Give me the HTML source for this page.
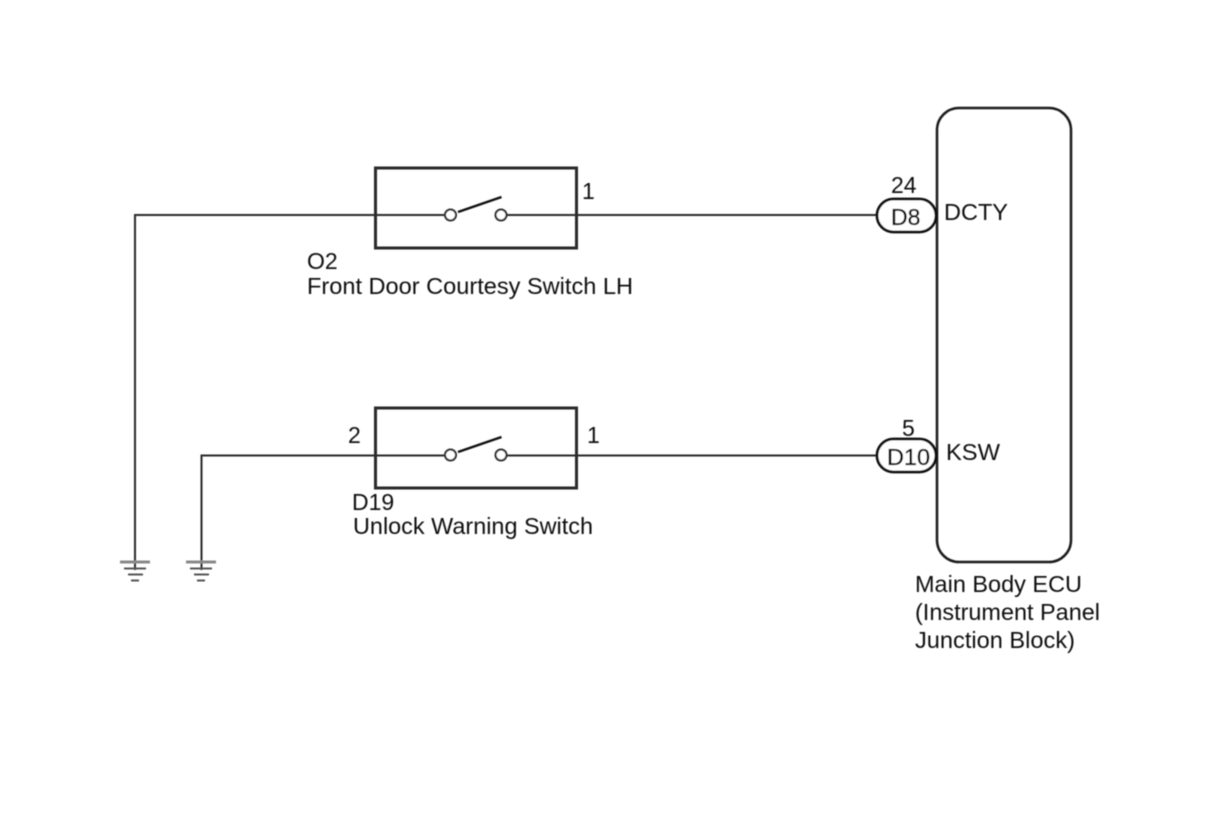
<!DOCTYPE html>
<html><head><meta charset="utf-8"><style>
html,body{margin:0;padding:0;background:#fff;width:1210px;height:814px;overflow:hidden}
svg{display:block}
text{font-family:"Liberation Sans",sans-serif;font-size:23px;fill:#111}
text.p{fill:#000;stroke:#000;stroke-width:.35px}
</style></head><body>
<svg width="1210" height="814" viewBox="0 0 1210 814" xmlns="http://www.w3.org/2000/svg">
<defs><filter id="b" x="0" y="0" width="1210" height="814" filterUnits="userSpaceOnUse" primitiveUnits="userSpaceOnUse"><feGaussianBlur stdDeviation="0.4"/></filter></defs>
<g filter="url(#b)">
<g fill="none" stroke="#2a2a2a" stroke-width="2">
<path d="M135 570V215H444M507 215H877"/>
<path d="M201.500 570V455.500H444M507 455.500H877"/>
<rect x="375.500" y="168" width="201" height="80" stroke-width="3"/>
<rect x="375.500" y="408" width="201" height="80" stroke-width="3"/>
<circle cx="450.500" cy="215" r="5.500" fill="#fff"/>
<circle cx="501" cy="215" r="5.500" fill="#fff"/>
<circle cx="450.500" cy="455" r="5.500" fill="#fff"/>
<circle cx="501" cy="455" r="5.500" fill="#fff"/>
<path d="M458 212L501.500 197M458 452L501.500 437" stroke="#111" stroke-width="2.500"/>
<rect x="937" y="108" width="134" height="454" rx="22" ry="22" stroke-width="2.500" stroke="#1a1a1a"/>
<rect x="877" y="199" width="59" height="33" rx="16.500" stroke-width="2.800" fill="#fff" stroke="#111"/>
<rect x="877" y="439" width="59" height="33" rx="16.500" stroke-width="2.800" fill="#fff" stroke="#111"/>
</g>
<g stroke="#555" fill="none">
<path d="M120 562H150M186 562H216" stroke-width="3" stroke="#888"/>
<path d="M124 568.500H146M190 568.500H212" stroke-width="2"/>
<path d="M128 574.500H143M194 574.500H209" stroke-width="2"/>
<path d="M131 580.500H139M197 580.500H205" stroke-width="2"/>
</g>
<text x="582" y="199">1</text>
<text x="587" y="443">1</text>
<text x="348" y="443">2</text>
<text x="307" y="269">O2</text>
<text x="307" y="294" textLength="326" lengthAdjust="spacingAndGlyphs">Front Door Courtesy Switch LH</text>
<text x="352" y="510">D19</text>
<text x="353" y="534" textLength="240" lengthAdjust="spacingAndGlyphs">Unlock Warning Switch</text>
<text x="891" y="193">24</text>
<text class="p" x="891" y="225">D8</text>
<text x="944" y="220" textLength="64" lengthAdjust="spacingAndGlyphs">DCTY</text>
<text x="902" y="436">5</text>
<text class="p" x="887" y="465" textLength="43" lengthAdjust="spacingAndGlyphs">D10</text>
<text x="946" y="460" textLength="54" lengthAdjust="spacingAndGlyphs">KSW</text>
<text x="915" y="592" textLength="167" lengthAdjust="spacingAndGlyphs">Main Body ECU</text>
<text x="915" y="620" textLength="185" lengthAdjust="spacingAndGlyphs">(Instrument Panel</text>
<text x="915" y="648" textLength="160" lengthAdjust="spacingAndGlyphs">Junction Block)</text>
</g>
</svg>
</body></html>
